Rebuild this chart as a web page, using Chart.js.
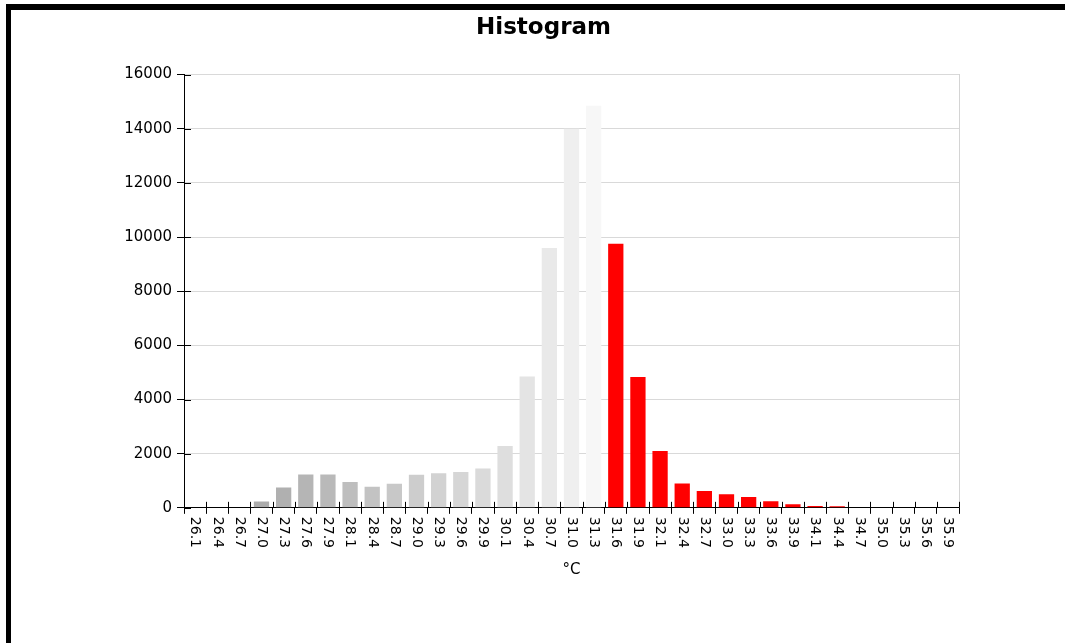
<!DOCTYPE html>
<html>
<head>
<meta charset="utf-8">
<script src="https://cdn.jsdelivr.net/npm/chart.js@4.4.0/dist/chart.umd.min.js"></script>
<style>
  html, body { margin: 0; padding: 0; background: #fff; overflow: hidden; }
  #frame {
    position: absolute; left: 6px; top: 4px; width: 1070px; height: 660px;
    border-top: 6px solid #000; border-left: 5px solid #000;
  }
  #chart { position: absolute; left: 0; top: 0; }
</style>
</head>
<body>
<div id="frame"></div>
<canvas id="chart" width="1065" height="643"></canvas>
<script>
// Data
const tempLabels = ['26.1', '26.4', '26.7', '27.0', '27.3', '27.6', '27.9', '28.1', '28.4', '28.7',
  '29.0', '29.3', '29.6', '29.9', '30.1', '30.4', '30.7', '31.0', '31.3', '31.6',
  '31.9', '32.1', '32.4', '32.7', '33.0', '33.3', '33.6', '33.9', '34.1', '34.4',
  '34.7', '35.0', '35.3', '35.6', '35.9'];
const counts = [0, 0, 0, 230, 750, 1230, 1230, 950, 780, 890,
  1220, 1280, 1320, 1450, 2280, 4850, 9600, 14000, 14850, 9750,
  4830, 2100, 900, 620, 500, 400, 240, 130, 70, 60,
  0, 0, 0, 0, 0];
const barColors = ['#a8a8a8', '#a8a8a8', '#a8a8a8', '#ababab', '#b0b0b0', '#b5b5b5', '#b9b9b9', '#bebebe', '#c3c3c3', '#c8c8c8',
  '#cdcdcd', '#d2d2d2', '#d6d6d6', '#dadada', '#dedede', '#e4e4e4', '#e9e9e9', '#efefef', '#f7f7f7', '#ff0000',
  '#ff0000', '#ff0000', '#ff0000', '#ff0000', '#ff0000', '#ff0000', '#ff0000', '#ff0000', '#ff0000', '#ff0000',
  '#ff0000', '#ff0000', '#ff0000', '#ff0000', '#ff0000'];
const yTicks = [0, 2000, 4000, 6000, 8000, 10000, 12000, 14000, 16000];

const FONT = '"DejaVu Sans", Verdana, sans-serif';

// x labels read top-to-bottom, plus small tick stubs inside the plot
const axisExtras = {
  id: 'axisExtras',
  afterDraw(chart) {
    const sx = chart.scales.x;
    const sy = chart.scales.y;
    const ctx = chart.ctx;
    ctx.save();
    ctx.strokeStyle = '#000';
    ctx.lineWidth = 1;
    const n = tempLabels.length;
    ctx.beginPath();
    for (let i = 0; i <= n; i++) {
      const x = Math.round(sx.left + i * sx.width / n) + 0.5;
      ctx.moveTo(x, sx.top - 6);
      ctx.lineTo(x, sx.top);
    }
    yTicks.forEach(v => {
      const y = Math.round(sy.getPixelForValue(v)) + 0.5;
      ctx.moveTo(sy.right, y);
      ctx.lineTo(sy.right + 7, y);
    });
    ctx.stroke();

    ctx.font = '14px ' + FONT;
    ctx.fillStyle = '#000';
    ctx.textAlign = 'left';
    ctx.textBaseline = 'middle';
    tempLabels.forEach((t, i) => {
      ctx.save();
      ctx.translate(sx.getPixelForTick(i), sx.top + 9);
      ctx.rotate(Math.PI / 2);
      ctx.fillText(t, 0, 0);
      ctx.restore();
    });
    ctx.restore();
  }
};

new Chart(document.getElementById('chart'), {
  type: 'bar',
  data: {
    labels: tempLabels,
    datasets: [{
      data: counts,
      backgroundColor: barColors,
      borderWidth: 0,
      barPercentage: 0.69,
      categoryPercentage: 1
    }]
  },
  options: {
    responsive: false,
    animation: false,
    layout: { padding: { left: 22, right: 0, top: 0, bottom: 64 } },
    plugins: {
      legend: { display: false },
      tooltip: { enabled: false },
      title: {
        display: true,
        text: 'Histogram',
        color: '#000',
        font: { family: FONT, size: 23, weight: 'bold' },
        padding: { top: 14, bottom: 33 }
      }
    },
    scales: {
      x: {
        grid: { drawOnChartArea: false, tickLength: 6, color: '#000', tickColor: '#000' },
        border: { color: '#000' },
        ticks: {
          autoSkip: false,
          minRotation: 90,
          maxRotation: 90,
          padding: 3,
          color: 'rgba(0,0,0,0)',
          font: { family: FONT, size: 14 }
        },
        title: {
          display: true,
          text: '°C',
          color: '#000',
          font: { family: FONT, size: 15 },
          padding: { top: 10, bottom: 0 }
        }
      },
      y: {
        min: 0,
        max: 16000,
        afterFit(s) { s.width = 162; },
        afterBuildTicks(s) { s.ticks = yTicks.map(v => ({ value: v })); },
        grid: { color: '#d9d9d9', tickColor: '#000', tickLength: 7 },
        border: { color: '#000' },
        ticks: {
          padding: 5,
          color: '#000',
          font: { family: FONT, size: 15 },
          callback: v => String(v)
        }
      },
      y1: {
        position: 'right',
        min: 0,
        max: 16000,
        afterFit(s) { s.width = 106; },
        grid: { drawOnChartArea: false, drawTicks: false },
        border: { color: '#d4d4d4' },
        ticks: { display: false }
      }
    }
  },
  plugins: [axisExtras]
});
</script>
</body>
</html>
